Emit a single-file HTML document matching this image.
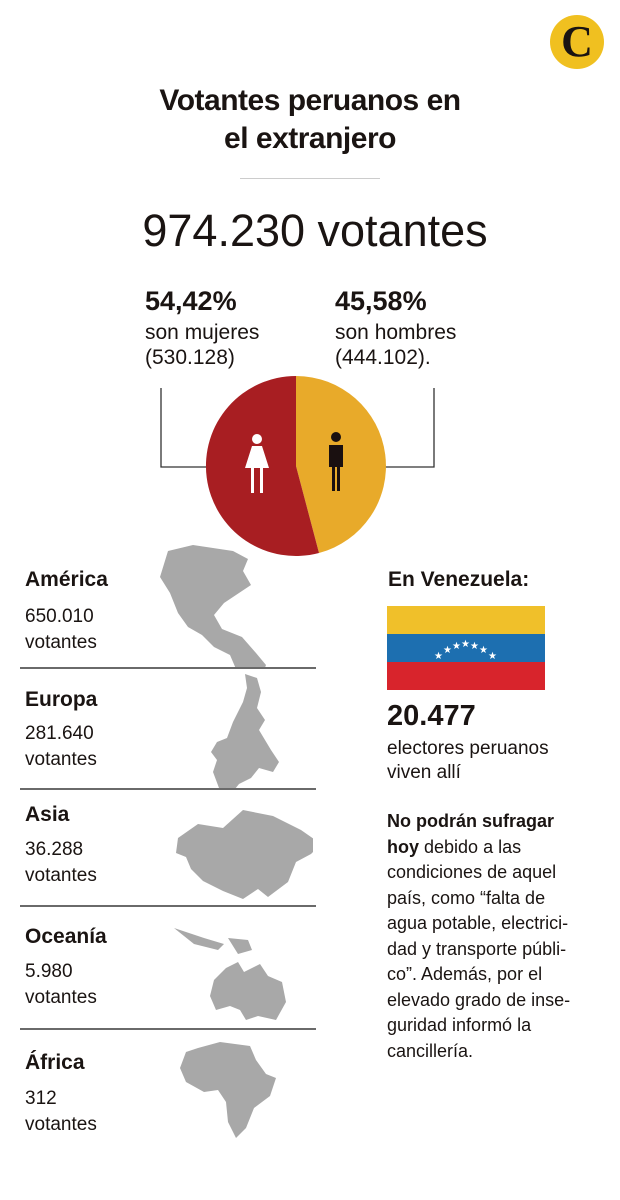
<!DOCTYPE html>
<html><head><meta charset="utf-8"><style>
body{margin:0;width:620px;height:1200px;background:#fff;position:relative;overflow:hidden;font-family:"Liberation Sans",sans-serif;color:#1a1412}
.a{position:absolute;white-space:nowrap}
.b{font-weight:bold}
.hr{position:absolute;left:20px;width:296px;height:2px;background:#6a6a6a}
svg.m{position:absolute;fill:#a8a8a8}
</style></head><body>
<div class="a" style="left:550px;top:15px;width:54px;height:54px;border-radius:50%;background:#f0c020;text-align:center;font-family:'Liberation Serif',serif;font-size:44px;line-height:54px;font-weight:bold">C</div>
<div class="a b" style="left:0;width:620px;text-align:center;top:82px;font-size:30px;line-height:38px;letter-spacing:-0.5px">Votantes peruanos en<br>el extranjero</div>
<div class="a" style="left:240px;top:178px;width:140px;height:1px;background:#ccc"></div>
<div class="a" style="left:0;width:630px;text-align:center;top:205px;font-size:45px">974.230 votantes</div>
<div class="a b" style="left:145px;top:286px;font-size:27px">54,42%</div>
<div class="a" style="left:145px;top:320px;font-size:21px;line-height:25px">son mujeres<br>(530.128)</div>
<div class="a b" style="left:335px;top:286px;font-size:27px">45,58%</div>
<div class="a" style="left:335px;top:320px;font-size:21px;line-height:25px">son hombres<br>(444.102).</div>
<svg class="a" style="left:0;top:0" width="620" height="560">
<path d="M161 388V467H208M434 388V467H384" fill="none" stroke="#333" stroke-width="1.3"/>
<path d="M296 466L296 376A90 90 0 0 1 319 553Z" fill="#e8aa2a"/>
<path d="M296 466L319 553A90 90 0 1 1 296 376Z" fill="#a81e22"/>
<g fill="#fff"><circle cx="257" cy="439" r="5"/><path d="M252 446h10l7 22h-6v25h-3v-25h-6v25h-3v-25h-6z"/></g>
<g fill="#1a1010"><circle cx="336" cy="437" r="5"/><path d="M329 445h14v22h-3v24h-3v-24h-2v24h-3v-24h-3z"/></g>
</svg>
<svg class="m" style="left:160px;top:543px" width="110" height="125"><path d="M8 8l25-6 40 6 15 8-5 12 8 14-12 8-15 10-10 12 8 14 20 8 14 16 10 12-6 16-10 8-4-12-10-8-6-14-16-8-12-12-14-8-10-14-8-20-10-16z"/></svg>
<svg class="m" style="left:205px;top:670px" width="75" height="120"><path d="M40 4l12 4 4 14-4 16 8 12-6 10 12 20 8 12-6 10-14-4-8 10-12 6-8 10-12-6-6-16 4-12-6-8 6-10 10-4 6-16 10-20 4-14z"/></svg>
<svg class="m" style="left:168px;top:798px" width="145" height="110"><path d="M10 40l20-14 25 4 20-18 30 6 28 14 20 14-10 10-15 8-8 20-20 15-10-8-15 10-20-8-20-10-12-12-5-12-10-4z"/></svg>
<svg class="m" style="left:168px;top:918px" width="125" height="105"><path d="M58 50l12-6 6 10 16-8 8 12 14 6 4 20-10 18-18-4-12 4-6-10-10-4-14 4-6-14 4-16z"/><path d="M6 10l30 10 20 6-6 6-24-6zM60 20l20 2 4 10-14 4zM94 60l10 10-4 14-10-6z"/></svg>
<svg class="m" style="left:178px;top:1038px" width="100" height="105"><path d="M20 10l22-6 30 4 6 14 10 14 10 4-6 18-16 12-8 20-10 10-8-16-2-20-8-12-14 2-18-10-6-14 6-16z"/></svg>
<div class="a b" style="left:25px;top:568px;font-size:21px">América</div>
<div class="a" style="left:25px;top:604px;font-size:19px;line-height:26px">650.010<br>votantes</div>
<div class="hr" style="top:667px"></div>
<div class="a b" style="left:25px;top:688px;font-size:21px">Europa</div>
<div class="a" style="left:25px;top:721px;font-size:19px;line-height:26px">281.640<br>votantes</div>
<div class="hr" style="top:788px"></div>
<div class="a b" style="left:25px;top:803px;font-size:21px">Asia</div>
<div class="a" style="left:25px;top:837px;font-size:19px;line-height:26px">36.288<br>votantes</div>
<div class="hr" style="top:905px"></div>
<div class="a b" style="left:25px;top:925px;font-size:21px">Oceanía</div>
<div class="a" style="left:25px;top:959px;font-size:19px;line-height:26px">5.980<br>votantes</div>
<div class="hr" style="top:1028px"></div>
<div class="a b" style="left:25px;top:1051px;font-size:21px">África</div>
<div class="a" style="left:25px;top:1086px;font-size:19px;line-height:26px">312<br>votantes</div>
<div class="a b" style="left:388px;top:568px;font-size:21px">En Venezuela:</div>
<div class="a" style="left:387px;top:606px;width:158px;height:28px;background:#f0c02a"></div>
<div class="a" style="left:387px;top:634px;width:158px;height:28px;background:#1d6fb0"></div>
<div class="a" style="left:387px;top:662px;width:158px;height:28px;background:#d8242c"></div>
<svg class="a" style="left:387px;top:634px" width="158" height="28" fill="#fff" font-size="10" font-family="DejaVu Sans"><text x="47" y="25">★</text><text x="56" y="19">★</text><text x="65" y="15">★</text><text x="74" y="13">★</text><text x="83" y="15">★</text><text x="92" y="19">★</text><text x="101" y="25">★</text></svg>
<div class="a b" style="left:387px;top:700px;font-size:29px">20.477</div>
<div class="a" style="left:387px;top:737px;font-size:19px;line-height:24px">electores peruanos<br>viven allí</div>
<div class="a" style="left:387px;top:809px;font-size:18px;line-height:25.5px"><b>No podrán sufragar<br>hoy</b> debido a las<br>condiciones de aquel<br>país, como “falta de<br>agua potable, electrici-<br>dad y transporte públi-<br>co”.  Además, por el<br>elevado grado de inse-<br>guridad informó la<br>cancillería.</div>
</body></html>
